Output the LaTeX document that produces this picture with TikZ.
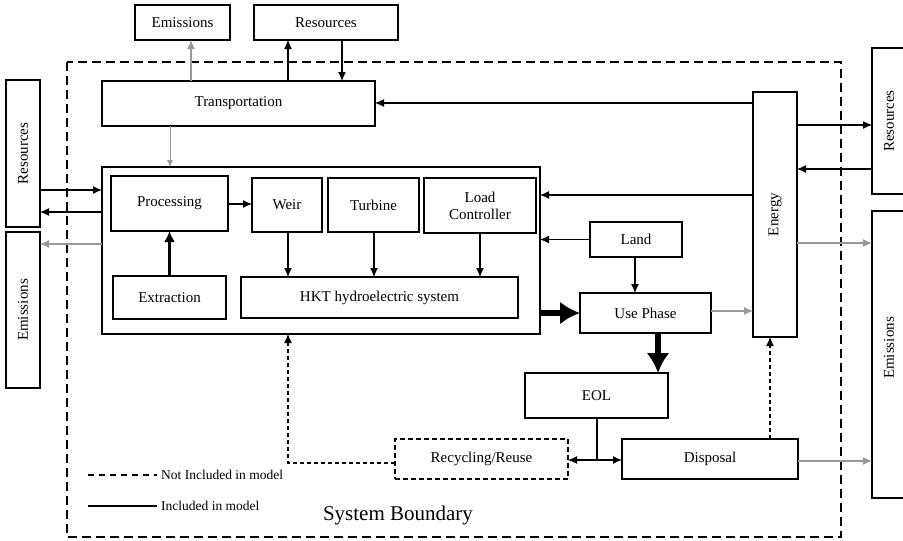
\documentclass[tikz,border=0pt]{standalone}
\usepackage{fontspec}
\setmainfont{Liberation Serif}
\usetikzlibrary{arrows.meta}
\begin{document}
\begin{tikzpicture}[x=1pt,y=-1pt,
  box/.style={draw, line width=1.3pt, inner sep=0pt, outer sep=0pt, align=center, font=\fontsize{15}{17}\selectfont},
  dbox/.style={box, dash pattern=on 5pt off 3pt},
  vtext/.style={rotate=90, inner sep=0pt, font=\fontsize{15}{17}\selectfont},
  arr/.style={-{Latex[length=9pt,width=8pt]}, line width=1.1pt},
  garr/.style={arr, draw=gray!80, fill=gray!80},
  darr/.style={arr, dash pattern=on 4pt off 3pt},
  thickarr/.style={-{Latex[length=20pt,width=23pt]}, line width=6.5pt},
  midarr/.style={-{Latex[length=11pt,width=11pt]}, line width=3pt},
  bound/.style={line width=1.6pt, dash pattern=on 9pt off 5pt},
  legend/.style={anchor=west, inner sep=0pt, font=\fontsize{13.5}{15}\selectfont}
]
\useasboundingbox (0,0) rectangle (903,541);
\clip (0,0) rectangle (903,541);

% system boundary
\draw[bound] (67,62) rectangle (841,537);

% top
\node[box, minimum width=95pt, minimum height=35pt] (emT) at (182.5,22.5) {Emissions};
\node[box, minimum width=144pt, minimum height=35pt] (resT) at (326,22.5) {Resources};
\node[box, minimum width=273pt, minimum height=45pt] (trans) at (238.5,103.5) {Transportation};

% big box and contents
\node[box, minimum width=438pt, minimum height=167pt] (big) at (321,250.5) {};
\node[box, minimum width=117pt, minimum height=55pt] (proc) at (169.5,203.5) {Processing};
\node[box, minimum width=70pt, minimum height=54pt] (weir) at (287,205) {Weir};
\node[box, minimum width=91pt, minimum height=54pt] (turb) at (373.5,205) {Turbine};
\node[box, minimum width=112pt, minimum height=55pt] (load) at (480,205.5) {Load\\Controller};
\node[box, minimum width=113pt, minimum height=43pt] (extr) at (169.5,297.5) {Extraction};
\node[box, minimum width=277pt, minimum height=41pt] (hkt) at (379.5,297.5) {HKT hydroelectric system};

% left side
\node[box, minimum width=34pt, minimum height=147pt] (resL) at (23,153.5) {};
\node[vtext] (resLt) at (resL) {Resources};
\node[box, minimum width=34pt, minimum height=156pt] (emL) at (23,310) {};
\node[vtext] (emLt) at (emL) {Emissions};

% right part
\node[box, minimum width=92pt, minimum height=35pt] (land) at (636,239.5) {Land};
\node[box, minimum width=131pt, minimum height=40pt] (use) at (645.5,313) {Use Phase};
\node[box, minimum width=44pt, minimum height=245pt] (energy) at (775,214.5) {};
\node[vtext] (energyt) at (energy) {Energy};
\node[box, minimum width=40pt, minimum height=146pt] (resR) at (892,121) {};
\node[vtext] (resRt) at (889,121) {Resources};
\node[box, minimum width=40pt, minimum height=287pt] (emR) at (892,354.5) {};
\node[vtext] (emRt) at (889,348) {Emissions};

% bottom
\node[box, minimum width=143pt, minimum height=45pt] (eol) at (596.5,395.5) {EOL};
\node[box, minimum width=176pt, minimum height=40pt] (disp) at (710,459) {Disposal};
\node[dbox, minimum width=173pt, minimum height=40pt] (recyc) at (481.5,459) {Recycling/Reuse};
\coordinate (split) at (597,460);

% connectors top
\draw[garr] (191,0 |- trans.north) -- (191,0 |- emT.south);
\draw[arr] (288,0 |- trans.north) -- (288,0 |- resT.south);
\draw[arr] (342,0 |- resT.south) -- (342,0 |- trans.north);
\draw[-{Latex[length=7pt,width=6pt]}, line width=0.8pt, draw=gray!80, fill=gray!80] (170,0 |- trans.south) -- (170,0 |- big.north);
\draw[arr] (energy.west |- 0,103) -- (trans.east |- 0,103);

% connectors left
\draw[arr] (resL.east |- 0,190) -- (big.west |- 0,190);
\draw[arr] (big.west |- 0,212) -- (resL.east |- 0,212);
\draw[garr] (big.west |- 0,244) -- (emL.east |- 0,244);

% inside big box
\draw[arr] (proc.east |- 0,204) -- (weir.west |- 0,204);
\draw[midarr] (extr.north) -- (proc.south);
\draw[arr] (weir.south -| 288,0) -- (hkt.north -| 288,0);
\draw[arr] (turb.south -| 374,0) -- (hkt.north -| 374,0);
\draw[arr] (load.south -| 480,0) -- (hkt.north -| 480,0);

% right connectors
\draw[arr] (energy.west |- 0,195) -- (big.east |- 0,195);
\draw[arr] (land.west) -- (big.east |- land.west);
\draw[arr] (land.south -| 635,0) -- (use.north -| 635,0);
\draw[thickarr] (big.east |- use.west) -- (use.west);
\draw[garr] (use.east |- 0,311) -- (energy.west |- 0,311);
\draw[arr] (energy.east |- 0,125) -- (resR.west |- 0,125);
\draw[arr] (resR.west |- 0,169) -- (energy.east |- 0,169);
\draw[garr] (energy.east |- 0,243) -- (emR.west |- 0,243);
\draw[thickarr] (use.south -| 658,0) -- (eol.north -| 658,0);

% bottom connectors
\draw[line width=1.1pt] (eol.south -| split) -- (split);
\draw[arr] (split) -- (recyc.east |- split);
\draw[arr] (split) -- (disp.west |- split);
\draw[darr] (disp.north -| 770,0) -- (energy.south -| 770,0);
\draw[garr] (disp.east |- 0,461) -- (emR.west |- 0,461);
\draw[darr] (recyc.west |- 0,463) -- (288,463) -- (big.south -| 288,0);

% legend
\coordinate (l1a) at (88,475);
\coordinate (l1b) at (157,475);
\coordinate (l2a) at (88,506);
\coordinate (l2b) at (157,506);
\draw[line width=1.1pt, dash pattern=on 6pt off 5pt] (l1a) -- (l1b);
\draw[line width=1.1pt] (l2a) -- (l2b);
\node[legend] (leg1) at (161,475) {Not Included in model};
\node[legend] (leg2) at (161,506) {Included in model};
\node[inner sep=0pt, font=\fontsize{21}{24}\selectfont] (sysb) at (398,515) {System Boundary};
\end{tikzpicture}
\end{document}
